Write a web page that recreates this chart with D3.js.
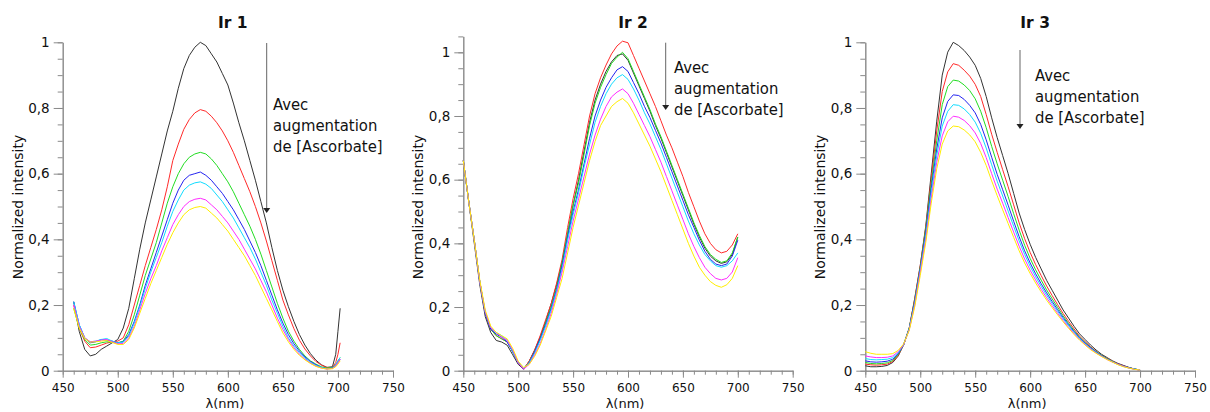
<!DOCTYPE html>
<html><head><meta charset="utf-8">
<script src="https://cdnjs.cloudflare.com/ajax/libs/d3/7.8.5/d3.min.js"></script>
<style>body{margin:0;background:#fff} svg{display:block}</style>
</head><body><svg id="c" width="1210" height="412"></svg>
<script>
// ---------- data ----------
const xTickValues = [450, 500, 550, 600, 650, 700, 750];
const yTickValues = [0, 0.2, 0.4, 0.6, 0.8, 1];
const yTickLabels = ["0", "0,2", "0,4", "0,6", "0,8", "1"];
const panelTitles = ["Ir 1", "Ir 2", "Ir 3"];
const annotationLines = ["Avec", "augmentation", "de [Ascorbate]"];
const xLabel = "λ(nm)";
const yLabel = "Normalized intensity";
const seriesNames = ["black", "red", "green", "blue", "cyan", "magenta", "yellow"];

const wl1 = [460,465,470,475,480,485,490,495,500,505,510,515,520,525,530,535,540,545,550,555,560,565,570,575,580,585,590,595,600,605,610,615,620,625,630,635,640,645,650,655,660,665,670,675,680,685,690,695,698,700,702];
const ir1Black = [.21,.12,.065,.045,.05,.065,.075,.085, .095,.13,.19,.28,.37,.45,.52,.59,.66,.73, .79,.86,.92,.96,.985,1.0,.99,.965,.94,.905, .87,.815,.755,.70,.64,.58,.515,.45,.375,.305, .245,.195,.15,.11,.078,.052,.032,.018,.01,.012, .05,.12,.19];
const ir1Red = [.2,.13,.09,.07,.072,.078,.084,.088, .09,.1,.14,.2,.26,.32,.375,.43,.49,.56, .64,.69,.735,.765,.785,.795,.79,.775,.755,.73, .70,.665,.625,.585,.545,.50,.45,.395,.335,.275, .215,.17,.128,.093,.066,.045,.028,.017,.01,.01, .025,.05,.085];
const ir1Green = [.19,.13,.095,.078,.08,.085,.088,.087, .085,.09,.12,.17,.23,.29,.34,.39,.45,.51, .56,.60,.63,.65,.66,.665,.66,.645,.625,.60, .575,.545,.51,.475,.44,.40,.355,.305,.255,.205, .16,.12,.09,.065,.045,.03,.02,.012,.008,.01, .018,.03,.04];
const ir1Blue = [.21,.14,.1,.085,.088,.095,.093,.09, .085,.088,.11,.15,.2,.26,.31,.36,.41,.46, .51,.55,.58,.595,.6,.605,.595,.58,.56,.54, .515,.49,.46,.43,.395,.36,.32,.275,.23,.185, .145,.11,.082,.06,.042,.028,.018,.01,.006,.008, .015,.025,.035];
const ir1Cyan = [.21,.14,.1,.088,.09,.095,.098,.09, .085,.087,.105,.145,.195,.25,.3,.345,.39,.44, .485,.52,.55,.565,.572,.575,.568,.555,.535,.515, .49,.465,.435,.405,.375,.34,.30,.26,.215,.175, .135,.10,.075,.055,.038,.025,.016,.01,.006,.008, .018,.03,.04];
const ir1Magenta = [.2,.135,.1,.088,.09,.093,.095,.088, .082,.083,.1,.135,.185,.235,.28,.32,.365,.405, .445,.475,.5,.515,.522,.525,.52,.505,.49,.47, .45,.425,.40,.37,.34,.31,.275,.24,.20,.16, .125,.095,.07,.05,.035,.023,.014,.008,.005,.007, .015,.025,.035];
const ir1Yellow = [.19,.13,.098,.087,.088,.09,.092,.086, .08,.08,.095,.13,.175,.22,.265,.305,.345,.385, .42,.45,.475,.49,.497,.50,.495,.48,.465,.445, .425,.40,.375,.35,.32,.29,.255,.22,.185,.15, .115,.088,.065,.047,.033,.022,.013,.008,.005,.006, .012,.02,.03];

const wl2 = [450,455,460,465,470,475,480,485,490,495,500,505,510,515,520,525,530,535,540,545,550,555,560,565,570,575,580,585,590,595,600,605,610,615,620,625,630,635,640,645,650,655,660,665,670,675,680,685,690,695,700];
const ir2Black = [.66,.53,.4,.27,.17,.12,.095,.09,.08,.05,.02,.005,.03,.065,.105,.155,.21,.27, .34,.43,.52,.6,.69,.78,.85,.9,.94,.97,.99,.995,.975,.935,.895,.855,.815,.77,.73,.685,.64,.595,.55,.505,.46,.42,.385,.36,.345,.337,.342,.365,.42];
const ir2Red = [.66,.53,.41,.28,.18,.13,.11,.1,.09,.06,.025,.005,.03,.065,.11,.16,.21,.275, .35,.45,.54,.62,.71,.8,.87,.92,.96,.995,1.02,1.035,1.03,.99,.95,.91,.87,.83,.785,.74,.7,.655,.61,.56,.515,.47,.43,.4,.38,.37,.375,.395,.43];
const ir2Green = [.66,.53,.41,.28,.18,.13,.11,.1,.09,.06,.025,.005,.025,.06,.1,.15,.2,.26, .34,.43,.52,.59,.68,.77,.84,.89,.93,.965,.985,1.0,.98,.94,.9,.86,.82,.775,.735,.69,.645,.6,.555,.51,.465,.425,.39,.365,.35,.34,.345,.37,.42];
const ir2Blue = [.66,.53,.41,.28,.18,.13,.115,.105,.09,.06,.025,.005,.025,.06,.1,.145,.195,.255, .33,.42,.5,.57,.65,.73,.8,.85,.89,.92,.945,.955,.94,.905,.87,.83,.795,.755,.715,.67,.625,.58,.535,.49,.45,.41,.375,.35,.335,.33,.335,.36,.41];
const ir2Cyan = [.66,.53,.41,.28,.185,.135,.12,.11,.095,.06,.025,.008,.025,.055,.095,.14,.19,.25, .32,.41,.49,.56,.64,.71,.78,.83,.87,.9,.92,.93,.915,.885,.85,.81,.775,.735,.695,.65,.605,.56,.515,.47,.43,.395,.365,.345,.33,.325,.33,.345,.37];
const ir2Magenta = [.66,.53,.41,.28,.185,.135,.12,.105,.095,.065,.025,.005,.02,.05,.085,.13,.18,.24, .31,.39,.47,.54,.61,.68,.74,.79,.83,.86,.875,.885,.87,.84,.805,.77,.735,.695,.655,.61,.565,.52,.475,.43,.39,.355,.325,.305,.29,.285,.29,.31,.355];
const ir2Yellow = [.66,.53,.41,.285,.19,.14,.12,.11,.1,.07,.03,.01,.02,.045,.08,.125,.17,.23, .29,.37,.45,.52,.59,.66,.72,.77,.8,.83,.845,.855,.84,.81,.775,.74,.705,.665,.625,.58,.535,.49,.445,.4,.36,.325,.3,.28,.268,.262,.27,.29,.33];

const wl3 = [450,455,460,465,470,475,480,485,490,495,500,505,510,515,520,525,530,535,540,545,550,555,560,565,570,575,580,585,590,595,600,605,610,615,620,625,630,635,640,645,650,655,660,665,670,675,680,685,690,695,700];
const ir3Black = [.015,.012,.012,.013,.016,.025,.045,.08,.13,.22, .32,.44,.6,.76,.9,.97,1.0,.99,.975,.955, .93,.89,.835,.77,.71,.655,.6,.54,.48,.43, .385,.345,.31,.275,.245,.215,.185,.16,.135,.112, .095,.078,.063,.05,.04,.03,.022,.016,.01,.005,.002];
const ir3Red = [.02,.018,.017,.018,.02,.028,.047,.08,.13,.22, .32,.435,.585,.73,.85,.91,.935,.93,.915,.897, .872,.835,.78,.72,.665,.612,.56,.505,.45,.402, .36,.323,.29,.258,.229,.201,.174,.15,.127,.105, .089,.073,.059,.047,.038,.029,.021,.015,.009,.005,.002];
const ir3Green = [.025,.022,.021,.022,.024,.031,.05,.08,.13,.215, .315,.43,.57,.7,.81,.865,.885,.882,.87,.853, .828,.79,.74,.683,.63,.58,.53,.478,.428,.382, .342,.307,.276,.246,.219,.193,.167,.144,.122,.102, .086,.071,.058,.047,.037,.028,.02,.014,.009,.005,.002];
const ir3Blue = [.03,.027,.026,.027,.029,.035,.052,.08,.128,.21, .31,.42,.555,.675,.77,.82,.84,.838,.826,.808, .785,.75,.703,.65,.598,.551,.504,.455,.408,.365, .328,.295,.265,.237,.211,.186,.162,.14,.119,.1, .084,.07,.057,.046,.036,.027,.02,.014,.009,.005,.002];
const ir3Cyan = [.037,.034,.033,.034,.035,.04,.055,.08,.127,.205, .305,.41,.54,.655,.745,.79,.81,.808,.797,.78, .757,.723,.678,.627,.577,.532,.486,.44,.395,.354, .318,.286,.257,.23,.205,.181,.158,.137,.116,.098, .082,.068,.056,.045,.035,.027,.019,.013,.008,.005,.002];
const ir3Magenta = [.045,.042,.04,.04,.041,.045,.058,.08,.125,.2, .3,.4,.525,.635,.715,.758,.775,.772,.762,.746, .724,.692,.649,.6,.553,.51,.466,.422,.379,.34, .306,.276,.248,.222,.198,.175,.153,.132,.113,.095, .08,.066,.054,.044,.034,.026,.019,.013,.008,.004,.002];
const ir3Yellow = [.058,.053,.05,.05,.05,.052,.062,.082,.123,.195, .29,.39,.51,.615,.69,.73,.745,.743,.733,.718, .697,.665,.625,.578,.533,.49,.448,.406,.365,.328, .296,.267,.24,.215,.192,.17,.149,.129,.11,.093, .078,.064,.053,.043,.034,.026,.018,.012,.008,.004,.002];

// ---------- styling / layout ----------
const colors = {black:"#333333", red:"#ff2a2a", green:"#22dd22", blue:"#2424f0", cyan:"#10dcff", magenta:"#ff2cff", yellow:"#ffee00"};
const panels = [
  {title: panelTitles[0], wl: wl1, series: [ir1Black, ir1Red, ir1Green, ir1Blue, ir1Cyan, ir1Magenta, ir1Yellow],
   xr: [62.7, 393], yb: 370.7, yt: 42.3, ymax: 1.0, yl: 18,
   arrow: {x: 266.7, y1: 43, y2: 213}, text: {x: 273, y: 110}},
  {title: panelTitles[1], wl: wl2, series: [ir2Black, ir2Red, ir2Green, ir2Blue, ir2Cyan, ir2Magenta, ir2Yellow],
   xr: [463.3, 792.7], yb: 370.7, yt: 36.4, ymax: 1.05, yl: 418,
   arrow: {x: 665.7, y1: 42.7, y2: 110}, text: {x: 674, y: 73}},
  {title: panelTitles[2], wl: wl3, series: [ir3Black, ir3Red, ir3Green, ir3Blue, ir3Cyan, ir3Magenta, ir3Yellow],
   xr: [865.3, 1195], yb: 370.7, yt: 42.3, ymax: 1.0, yl: 820,
   arrow: {x: 1020, y1: 50, y2: 129}, text: {x: 1035, y: 81}}
];

const svg = d3.select("#c");
svg.append("rect").attr("width", 1210).attr("height", 412).attr("fill", "#fff");
const axisColor = "#8a8a8a";
const font = "'DejaVu Sans', Verdana, sans-serif";

panels.forEach(p => {
  const x = d3.scaleLinear().domain([450, 750]).range(p.xr);
  const y = d3.scaleLinear().domain([0, p.ymax]).range([p.yb, p.yt]);
  const g = svg.append("g");

  // minor ticks
  const xMinor = d3.range(45, 76).map(i => i * 10);
  const yMinor = d3.range(0, 22).map(i => i * 0.05).filter(v => v <= p.ymax + 1e-9);
  g.append("g").attr("transform", `translate(0,${p.yb})`)
    .call(d3.axisBottom(x).tickValues(xMinor).tickSize(4).tickSizeOuter(0).tickFormat(""));
  g.append("g").attr("transform", `translate(${p.xr[0]},0)`)
    .call(d3.axisLeft(y).tickValues(yMinor).tickSize(5).tickSizeOuter(0).tickFormat(""));
  // major ticks
  const xa = g.append("g").attr("transform", `translate(0,${p.yb})`)
    .call(d3.axisBottom(x).tickValues(xTickValues).tickSize(7).tickSizeOuter(0).tickPadding(6).tickFormat(d3.format("d")));
  const ya = g.append("g").attr("transform", `translate(${p.xr[0]},0)`)
    .call(d3.axisLeft(y).tickValues(yTickValues).tickSize(9).tickSizeOuter(0).tickPadding(4)
      .tickFormat((d, i) => yTickLabels[i]));
  g.selectAll(".domain, .tick line").attr("stroke", axisColor).attr("stroke-width", 1);
  xa.selectAll(".tick text").attr("fill", "#111").style("font-family", font).style("font-size", "12px");
  ya.selectAll(".tick text").attr("fill", "#111").style("font-family", font).style("font-size", "13.5px");

  // curves
  const line = d3.line().x((d, i) => x(p.wl[i])).y(d => y(d));
  p.series.forEach((s, k) => {
    g.append("path").datum(s).attr("d", line)
      .attr("fill", "none").attr("stroke", colors[seriesNames[k]]).attr("stroke-width", 1)
      .attr("stroke-linejoin", "round");
  });

  // title
  g.append("text").attr("x", x(600) + 5).attr("y", 28).attr("text-anchor", "middle")
    .style("font-family", font).style("font-weight", "bold").style("font-size", "15.5px").attr("fill", "#111")
    .text(p.title);
  // x label
  g.append("text").attr("x", x(600) - 3).attr("y", 408).attr("text-anchor", "middle")
    .style("font-family", font).style("font-size", "13px").attr("fill", "#111").text(xLabel);
  // y label
  g.append("text").attr("transform", `translate(${p.yl},207) rotate(-90)`).attr("text-anchor", "middle")
    .attr("dominant-baseline", "central")
    .style("font-family", font).style("font-size", "14px").attr("fill", "#111").text(yLabel);

  // arrow annotation
  g.append("line").attr("x1", p.arrow.x).attr("x2", p.arrow.x).attr("y1", p.arrow.y1).attr("y2", p.arrow.y2 - 4)
    .attr("stroke", "#666").attr("stroke-width", 1);
  g.append("path").attr("d", `M${p.arrow.x - 3.5},${p.arrow.y2 - 5}L${p.arrow.x + 3.5},${p.arrow.y2 - 5}L${p.arrow.x},${p.arrow.y2}Z`)
    .attr("fill", "#222");
  annotationLines.forEach((t, i) => {
    g.append("text").attr("x", p.text.x).attr("y", p.text.y + i * 21)
      .style("font-family", "'DejaVu Sans Condensed', 'DejaVu Sans', sans-serif").style("font-size", "16.5px")
      .attr("fill", "#111").text(t);
  });
});
</script></body></html>
